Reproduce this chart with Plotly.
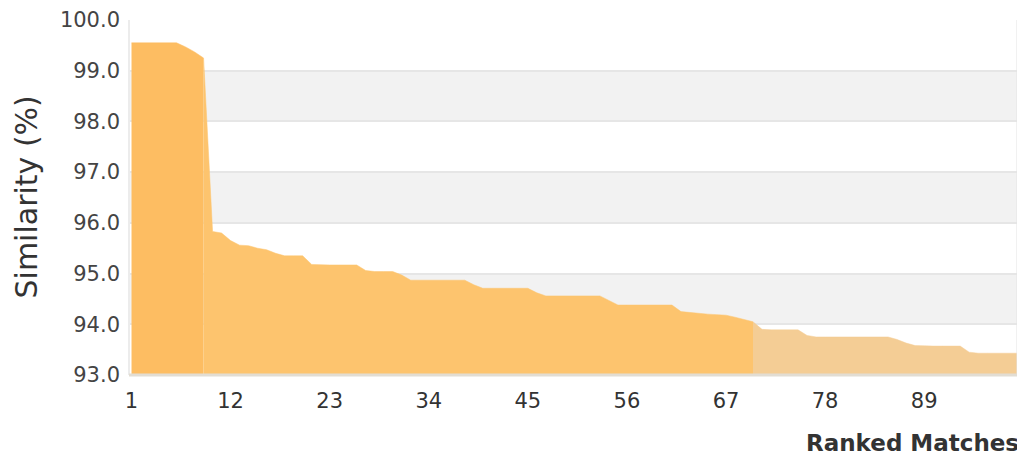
import plotly.graph_objects as go

# Ranked match index and similarity (%)
ranks = list(range(1, 101))
similarity = [
    99.55, 99.55, 99.55, 99.55, 99.55, 99.55, 99.47, 99.37, 99.25, 95.83,
    95.80, 95.65, 95.56, 95.55, 95.50, 95.47, 95.40, 95.35, 95.35, 95.35,
    95.18, 95.17, 95.17, 95.17, 95.17, 95.17, 95.06, 95.04, 95.04, 95.04,
    94.97, 94.87, 94.87, 94.87, 94.87, 94.87, 94.87, 94.87, 94.78, 94.71,
    94.71, 94.71, 94.71, 94.71, 94.71, 94.62, 94.56, 94.56, 94.56, 94.56,
    94.56, 94.56, 94.56, 94.47, 94.38, 94.38, 94.38, 94.38, 94.38, 94.38,
    94.38, 94.25, 94.23, 94.22, 94.20, 94.19, 94.18, 94.14, 94.10, 94.05,
    93.90, 93.89, 93.89, 93.89, 93.89, 93.78, 93.75, 93.75, 93.75, 93.75,
    93.75, 93.75, 93.75, 93.75, 93.75, 93.70, 93.63, 93.58, 93.57, 93.57,
    93.57, 93.57, 93.57, 93.45, 93.43, 93.43, 93.43, 93.43, 93.43, 93.43,
]
# segment boundaries (1-based rank where each colour group ends)
seg_ends = [9, 70, 100]
seg_colors = ["#FDBD62", "#FDC46E", "#F4CD95"]
x_ticks = [1, 12, 23, 34, 45, 56, 67, 78, 89]
y_ticks = [93, 94, 95, 96, 97, 98, 99, 100]

FONT = "DejaVu Sans, Verdana, sans-serif"

fig = go.Figure()
start = 1
for end, col in zip(seg_ends, seg_colors):
    xs = ranks[start - 1:end]
    ys = similarity[start - 1:end]
    fig.add_trace(go.Scatter(
        x=xs, y=ys, mode="lines", fill="tozeroy",
        line=dict(color=col, width=0.5), fillcolor=col,
        hoverinfo="skip", showlegend=False,
    ))
    start = end

# alternating bands
shapes = []
for lo in [94, 96, 98]:
    shapes.append(dict(type="rect", xref="paper", yref="y", x0=0, x1=1,
                       y0=lo, y1=lo + 1, fillcolor="#f2f2f2",
                       line=dict(width=0), layer="below"))
# frame lines
shapes.append(dict(type="line", xref="paper", yref="paper", x0=0, x1=0, y0=0, y1=1,
                   line=dict(color="#ececec", width=2), layer="above"))
shapes.append(dict(type="line", xref="paper", yref="paper", x0=1, x1=1, y0=0, y1=1,
                   line=dict(color="#e4e4e4", width=3), layer="above"))
shapes.append(dict(type="line", xref="paper", yref="paper", x0=0, x1=1, y0=0, y1=0,
                   line=dict(color="#e2ddd3", width=3), layer="above"))

fig.update_layout(
    width=1017, height=450,
    margin=dict(l=121, r=7, t=12, b=83),
    paper_bgcolor="white", plot_bgcolor="white",
    shapes=shapes,
    font=dict(family=FONT, color="#444444"),
    xaxis=dict(range=[0.72, 99.42], tickmode="array", tickvals=x_ticks,
               ticktext=[str(t) for t in x_ticks], showgrid=False, zeroline=False,
               ticks="", ticklabelstandoff=11, automargin=False,
               tickfont=dict(family=FONT, size=21, color="#333333")),
    yaxis=dict(range=[93, 100], tickmode="array", tickvals=y_ticks,
               ticktext=[f"{t:.1f}" for t in y_ticks], showgrid=True,
               gridcolor="#e6e6e6", gridwidth=2, zeroline=False, ticks="",
               ticklabelstandoff=8, automargin=False,
               tickfont=dict(family=FONT, size=21, color="#444444")),
    annotations=[
        dict(text="<b>Ranked Matches</b>", xref="paper", yref="paper",
             x=1.0, y=0, xanchor="right", yanchor="middle", yshift=-68,
             xshift=3, showarrow=False,
             font=dict(family=FONT, size=23, color="#333333")),
        dict(text="Similarity (%)", xref="paper", yref="paper",
             x=0, y=0.5, xanchor="center", yanchor="middle", xshift=-103,
             textangle=-90, showarrow=False,
             font=dict(family=FONT, size=30, color="#333333")),
    ],
)

fig.write_html("out.html")
